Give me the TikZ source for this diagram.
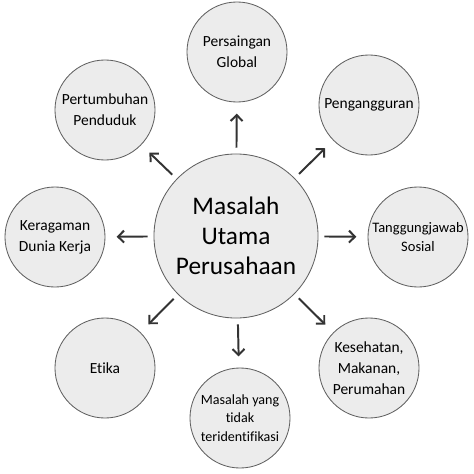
\documentclass[tikz,border=0pt]{standalone}
\usepackage{fontspec}
\setmainfont{Carlito}[Ligatures=NoCommon]
\usetikzlibrary{arrows.meta}

\begin{document}
\begin{tikzpicture}[x=0.025cm, y=-0.025cm, >={Straight Barb[length=1.5mm, width=3mm]},
  bub/.style={circle, draw=gray!75!black, line width=0.6pt, fill=gray!15,
    minimum size=2.5cm, inner sep=0pt, align=center, font=\fontsize{11}{15}\selectfont},
  bubs/.style={bub, font=\fontsize{10.3}{13}\selectfont},
  arr/.style={->, line width=1.4pt, draw=black!80, shorten <=0.15cm, shorten >=0.28cm}]
\useasboundingbox (0,0) rectangle (474,474);
% --- centre ---
\node[bub, minimum size=4.1cm, font=\fontsize{18}{21.3}\selectfont] (mu) at (236,236)
  {Masalah\\Utama\\Perusahaan};
% --- surrounding problems ---
\node[bub] (pg) at (237,52) {Persaingan\\Global};
\node[bub] (pn) at (369,105) {Pengangguran};
\node[bubs] (ts) at (418,237) {Tanggungjawab\\Sosial};
\node[bub] (km) at (369,368) {Kesehatan,\\Makanan,\\Perumahan};
\node[bubs, font=\fontsize{10}{13}\selectfont] (mt) at (240,418) {Masalah yang\\tidak\\teridentifikasi};
\node[bub] (et) at (105,368) {Etika};
\node[bub] (kd) at (55,237) {Keragaman\\Dunia Kerja};
\node[bub] (pp) at (105,110) {Pertumbuhan\\Penduduk};
% --- arrows outwards ---
\draw[arr] (mu) -- (pg);
\draw[arr] (mu) -- (pn);
\draw[arr] (mu) -- (ts);
\draw[arr] (mu) -- (km);
\draw[arr] (mu) -- (mt);
\draw[arr] (mu) -- (et);
\draw[arr] (mu) -- (kd);
\draw[arr] (mu) -- (pp);
\end{tikzpicture}
\end{document}
